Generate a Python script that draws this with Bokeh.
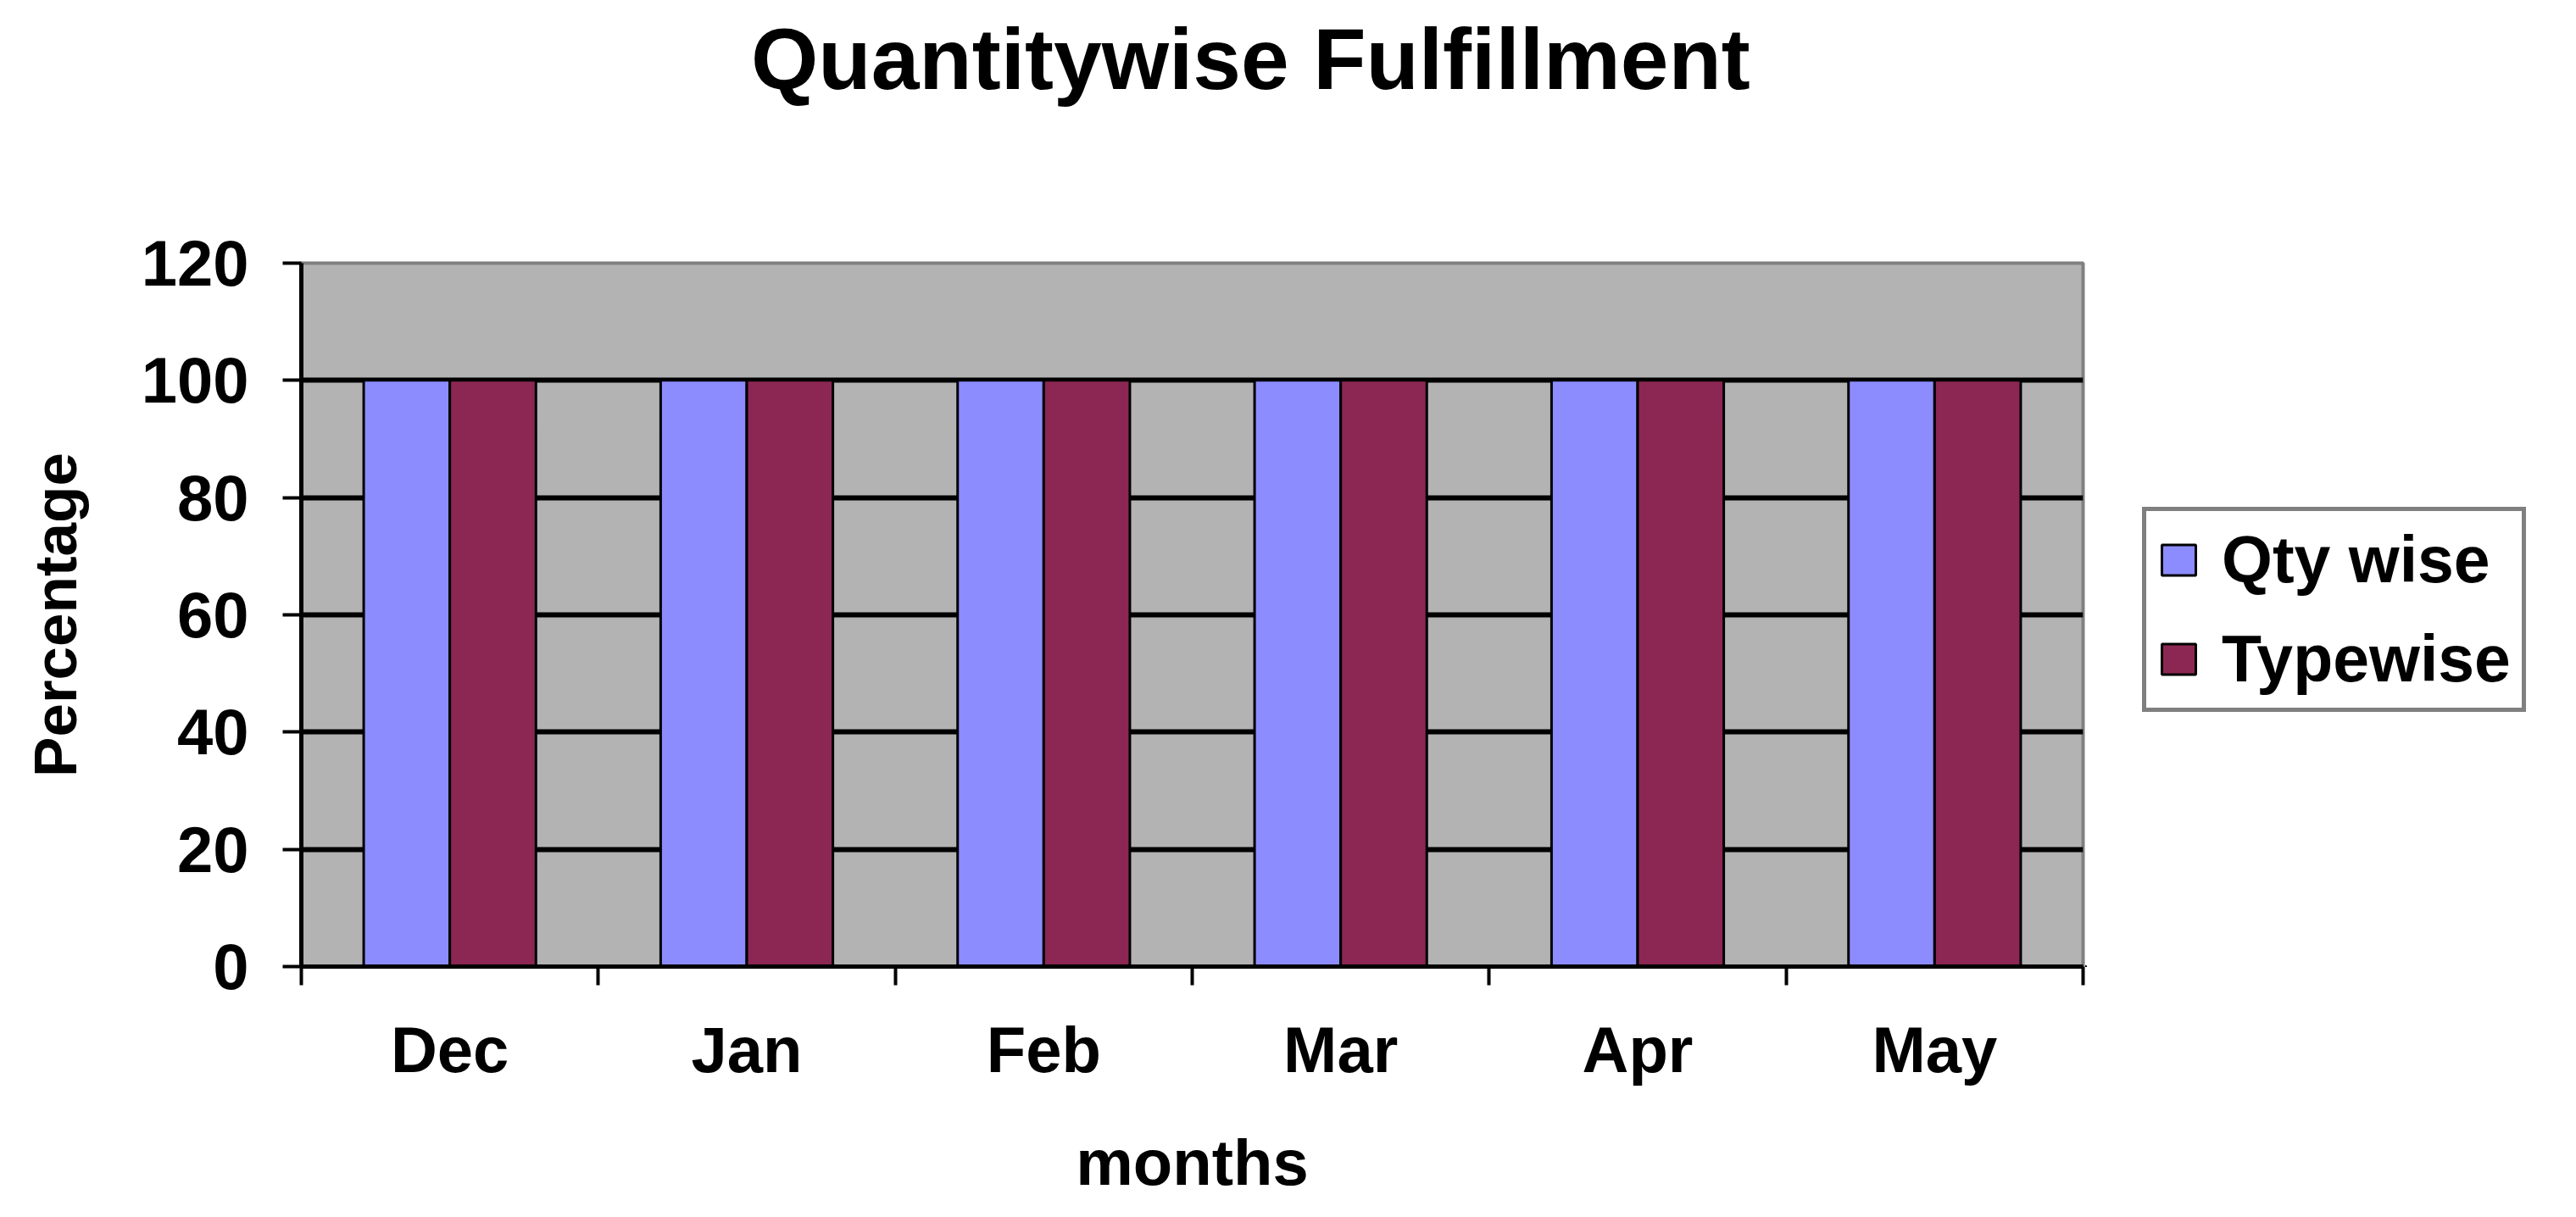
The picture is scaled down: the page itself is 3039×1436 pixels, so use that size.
from bokeh.plotting import figure
from bokeh.layouts import row, column
from bokeh.models import Range1d, FixedTicker, ColumnDataSource, Legend, LegendItem, Div
from bokeh.transform import dodge
from bokeh.embed import file_html
from bokeh.resources import INLINE

months = ["Dec", "Jan", "Feb", "Mar", "Apr", "May"]
qty_wise = [100, 100, 100, 100, 100, 100]
typewise = [100, 100, 100, 100, 100, 100]
y_ticks = [0, 20, 40, 60, 80, 100, 120]
series_names = ["Qty wise", "Typewise"]
series_colors = ["#8C8CFF", "#8B2752"]
title_text = "Quantitywise Fulfillment"

FONT = "Liberation Sans"
x_pos = [i + 0.5 for i in range(len(months))]
src = ColumnDataSource(dict(x=x_pos, qty=qty_wise, typ=typewise))

title_div = Div(text=title_text, width=2145, height=140, margin=(0, 0, 0, 886),
                styles={"font-family": FONT, "font-size": "102px", "font-weight": "bold",
                        "line-height": "140px", "color": "black", "white-space": "nowrap"})

p = figure(width=2460, height=1280, output_backend="svg", toolbar_location=None,
           x_range=Range1d(0, len(months)), y_range=Range1d(0, 120),
           min_border_left=355, min_border_right=3, min_border_top=170, min_border_bottom=280)

p.background_fill_color = "#B3B3B3"
p.border_fill_color = "white"
p.outline_line_color = "#808080"
p.outline_line_width = 4

p.vbar(x=dodge("x", -0.145, range=p.x_range), top="qty", width=0.29, source=src,
       fill_color=series_colors[0], line_color="black", line_width=3)
p.vbar(x=dodge("x", 0.145, range=p.x_range), top="typ", width=0.29, source=src,
       fill_color=series_colors[1], line_color="black", line_width=3)

# x axis
xa = p.xaxis[0]
xa.ticker = FixedTicker(ticks=x_pos, minor_ticks=list(range(len(months) + 1)))
xa.major_label_overrides = {x: m for x, m in zip(x_pos, months)}
xa.major_tick_out = 0
xa.major_tick_in = 0
xa.minor_tick_out = 22
xa.minor_tick_in = 0
xa.minor_tick_line_color = "black"
xa.minor_tick_line_width = 4
xa.axis_line_color = "black"
xa.axis_line_width = 5
xa.major_label_text_font = FONT
xa.major_label_text_font_size = "76px"
xa.major_label_text_font_style = "bold"
xa.major_label_text_color = "black"
xa.major_label_standoff = 33
xa.axis_label = "months"
xa.axis_label_text_font = FONT
xa.axis_label_text_font_size = "76px"
xa.axis_label_text_font_style = "bold"
xa.axis_label_text_color = "black"
xa.axis_label_standoff = 45

# y axis
ya = p.yaxis[0]
ya.ticker = FixedTicker(ticks=y_ticks)
ya.major_tick_out = 22
ya.major_tick_in = 0
ya.minor_tick_out = 0
ya.minor_tick_in = 0
ya.major_tick_line_color = "black"
ya.major_tick_line_width = 4
ya.axis_line_color = "black"
ya.axis_line_width = 5
ya.major_label_text_font = FONT
ya.major_label_text_font_size = "76px"
ya.major_label_text_font_style = "bold"
ya.major_label_text_color = "black"
ya.major_label_standoff = 40
ya.axis_label = "Percentage"
ya.axis_label_text_font = FONT
ya.axis_label_text_font_size = "71px"
ya.axis_label_text_font_style = "bold"
ya.axis_label_text_color = "black"
ya.axis_label_standoff = 59

p.xgrid.grid_line_color = None
p.ygrid.grid_line_color = "black"
p.ygrid.grid_line_width = 6

# legend panel (separate figure to the right of the plot area; its bars lie far outside its view)
p2 = figure(width=571, height=1280, output_backend="svg", toolbar_location=None,
            x_axis_type=None, y_axis_type=None,
            x_range=Range1d(200, 201), y_range=Range1d(1000, 1001),
            min_border=0)
p2.outline_line_color = None
p2.background_fill_color = "white"
p2.border_fill_color = "white"
p2.grid.visible = False
items = []
for name, col, key in zip(series_names, series_colors, ["qty", "typ"]):
    rr = p2.vbar(x="x", top=key, width=0.29, source=src, fill_color=col,
                 line_color="black", line_width=3)
    items.append(LegendItem(label=name, renderers=[rr]))

lg = Legend(items=items, location=(67, 300))
lg.label_text_font = FONT
lg.label_text_font_size = "77px"
lg.label_text_font_style = "bold"
lg.label_text_color = "black"
lg.glyph_width = 50
lg.glyph_height = 45
lg.label_height = 80
lg.label_standoff = 26
lg.spacing = 28
lg.padding = 13
lg.margin = 0
lg.border_line_color = "black"
lg.border_line_width = 5
lg.background_fill_color = "white"
lg.background_fill_alpha = 1
p2.add_layout(lg, "center")

layout = column(title_div, row(p, p2))
open("out.html", "w").write(file_html(layout, INLINE))
